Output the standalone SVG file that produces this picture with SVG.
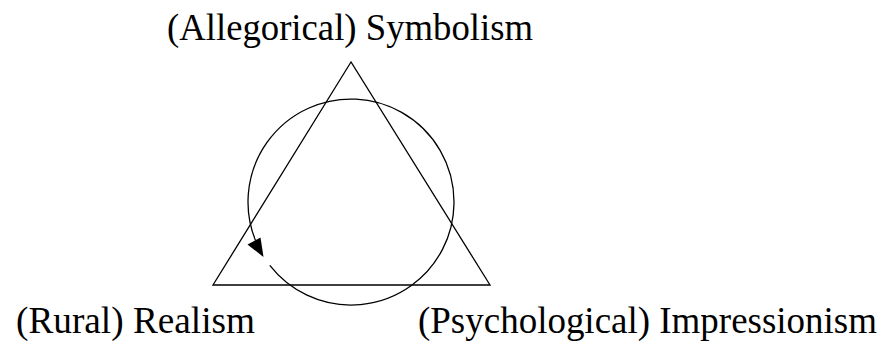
<svg xmlns="http://www.w3.org/2000/svg" width="881" height="346" viewBox="0 0 881 346">
<style>
.ln{fill:none;stroke:#000;stroke-width:1.3}
text{font-family:'Liberation Serif','Times New Roman',serif;font-size:37px;fill:#000}
</style>
<rect width="881" height="346" fill="#fff"/>
<g id="connectors">
<polygon class="ln" points="351,62 213,285 490,285"/>
<path class="ln" d="M269.8,265.4 A103,103 0 1 0 255.5,240.6"/>
<polygon points="263.5,257 260.5,237.5 247.5,244.5" fill="#000"/>
</g>
<g id="symbolism"><text x="167" y="40" textLength="366" lengthAdjust="spacingAndGlyphs">(Allegorical) Symbolism</text></g>
<g id="realism"><text x="16" y="333" textLength="239" lengthAdjust="spacingAndGlyphs">(Rural) Realism</text></g>
<g id="impressionism"><text x="418" y="333" textLength="459" lengthAdjust="spacingAndGlyphs">(Psychological) Impressionism</text></g>
</svg>
